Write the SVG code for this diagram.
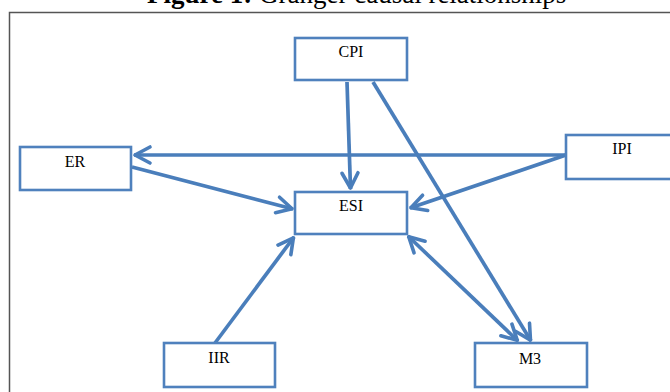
<svg xmlns="http://www.w3.org/2000/svg" width="670" height="392" viewBox="0 0 670 392">
<style>
.box{fill:#fff;stroke:#4F81BD;stroke-width:2.6}
.lbl{font-family:"Liberation Serif","Times New Roman",serif;font-size:16px;fill:#000;text-anchor:middle}
.con{stroke:#4A7EBB;stroke-width:3.7;fill:none}
.title{font-family:"Liberation Serif","Times New Roman",serif;font-size:27px;fill:#000}
</style>
<defs>
<marker id="ah" viewBox="0 0 22 22" refX="19" refY="11" markerWidth="22" markerHeight="22" markerUnits="userSpaceOnUse" orient="auto-start-reverse">
<path d="M3,3 L18,11 L3,19" fill="none" stroke="#4A7EBB" stroke-width="3.6" stroke-linejoin="round" stroke-linecap="round"/>
</marker>
</defs>
<rect width="670" height="392" fill="#fff"/>
<text class="title" x="147" y="3"><tspan font-weight="bold">Figure 1:</tspan> Granger causal relationships</text>
<path d="M9.5,392 V12.5 H670" fill="none" stroke="#555" stroke-width="1.5"/>
<g id="connectors">
<line class="con" x1="347" y1="82" x2="350.5" y2="189" marker-end="url(#ah)"/>
<line class="con" x1="373" y1="82" x2="531" y2="341" marker-end="url(#ah)"/>
<line class="con" x1="566" y1="155" x2="134" y2="155" marker-end="url(#ah)"/>
<line class="con" x1="566" y1="155" x2="410" y2="208" marker-end="url(#ah)"/>
<line class="con" x1="132" y1="167" x2="293" y2="209" marker-end="url(#ah)"/>
<line class="con" x1="215" y1="343" x2="294" y2="237" marker-end="url(#ah)"/>
<line class="con" x1="408" y1="236" x2="518" y2="341" marker-start="url(#ah)" marker-end="url(#ah)"/>
</g>
<g id="CPI"><rect class="box" x="295" y="38" width="112" height="42"/><text class="lbl" x="351" y="57">CPI</text></g>
<g id="ER"><rect class="box" x="20" y="147" width="111" height="43"/><text class="lbl" x="75" y="167">ER</text></g>
<g id="IPI"><rect class="box" x="566" y="135" width="120" height="44"/><text class="lbl" x="622" y="154">IPI</text></g>
<g id="ESI"><rect class="box" x="295" y="192" width="112" height="42"/><text class="lbl" x="351" y="211">ESI</text></g>
<g id="IIR"><rect class="box" x="164" y="343" width="111" height="44"/><text class="lbl" x="219" y="363">IIR</text></g>
<g id="M3"><rect class="box" x="475" y="343" width="112" height="44"/><text class="lbl" x="530" y="364">M3</text></g>
</svg>
